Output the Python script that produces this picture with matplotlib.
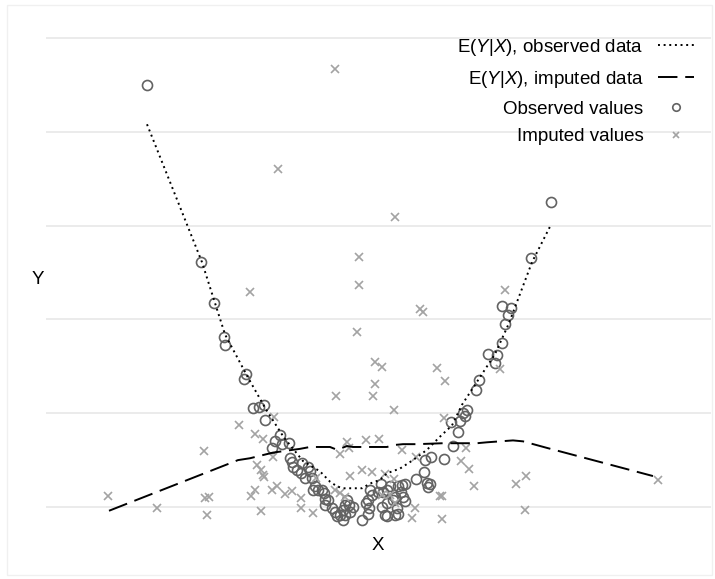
import numpy as np
import matplotlib
matplotlib.use("Agg")
import matplotlib.pyplot as plt
from matplotlib.patches import Rectangle

plt.rcParams['font.family'] = ['Liberation Sans', 'DejaVu Sans']
plt.rcParams['mathtext.fontset'] = 'custom'
plt.rcParams['mathtext.rm'] = 'Liberation Sans'
plt.rcParams['mathtext.it'] = 'Liberation Sans:italic'

# ── data ─────────────────────────────────────────────────
obs_x = [-1.98, -1.44, -1.31, -1.21, -1.20, -0.99, -1.01, -0.92, -0.86, -0.81,
         -0.80, -0.65, -0.70, -0.63, -0.56, -0.73, -0.55, -0.53, -0.52, -0.48,
         -0.43, -0.44, -0.37, -0.35, -0.40, -0.33, -0.30, -0.27, -0.32, -0.23,
         -0.21, -0.20, -0.17, -0.20, -0.13, -0.10, -0.08, -0.05, -0.02, 0.00,
         0.02, 0.04, 0.08, 0.05, 0.00, -0.02, 0.17, 0.21, 0.23, 0.24,
         0.25, 0.27, 0.23, 0.36, 0.33, 0.38, 0.40, 0.42, 0.37, 0.42,
         0.45, 0.48, 0.42, 0.50, 0.53, 0.57, 0.60, 0.56, 0.58, 0.60,
         0.52, 0.53, 0.50, 0.71, 0.79, 0.82, 0.83, 0.85, 0.80, 0.86,
         0.99, 1.08, 1.06, 1.13, 1.15, 1.18, 1.20, 1.22, 1.34, 1.31,
         1.43, 1.52, 1.50, 1.57, 1.60, 1.63, 1.57, 1.66, 1.86, 2.06]
obs_y = [4.50, 2.61, 2.17, 1.81, 1.73, 1.42, 1.36, 1.06, 1.07, 1.09,
         0.93, 0.77, 0.70, 0.67, 0.68, 0.63, 0.52, 0.48, 0.43, 0.39,
         0.47, 0.36, 0.43, 0.38, 0.31, 0.31, 0.22, 0.18, 0.18, 0.18,
         0.15, 0.09, 0.07, 0.02, -0.01, -0.05, -0.10, -0.08, -0.03, 0.02,
         0.07, 0.02, 0.00, -0.05, -0.09, -0.14, -0.14, 0.04, 0.08, -0.01,
         0.18, 0.13, -0.07, 0.25, 0.16, 0.16, -0.09, -0.10, 0.00, 0.18,
         0.22, 0.07, 0.04, 0.11, 0.22, 0.23, 0.25, 0.16, 0.11, 0.06,
         -0.01, -0.07, -0.09, 0.30, 0.37, 0.26, 0.21, 0.25, 0.50, 0.53,
         0.51, 0.65, 0.91, 0.80, 0.92, 1.00, 0.97, 1.03, 1.35, 1.25,
         1.63, 1.62, 1.53, 1.75, 1.95, 2.05, 2.14, 2.12, 2.65, 3.25]

imp_x = [-0.10, -0.67, 0.50, 0.14, 0.14, -0.95, 0.75, 0.78, 1.60, 0.12,
         0.30, 0.37, 0.92, 0.30, 1.00, -0.09, 0.28, 1.55, 0.49, 0.99,
         -1.06, -0.71, -1.41, -2.37, -1.88, -1.40, -1.36, -1.38, 3.13, 1.81,
         1.71, 1.80, 1.29, 1.24, 1.16, 1.21, 0.97, 0.95, 0.97, -0.90,
         -0.82, -0.72, -0.88, -0.84, -0.82, -0.81, -0.90, -0.94, -0.73, -0.68,
         -0.60, -0.53, -0.44, -0.44, -0.84, -0.32, -0.29, 0.02, -0.05, 0.04,
         0.21, 0.34, 0.57, 0.05, 0.17, 0.27, 0.40, 0.49, 0.71, 0.67,
         0.70, -0.05, 0.00, 0.45, 0.50, 0.37, -0.10]
imp_y = [4.67, 3.60, 3.09, 2.67, 2.37, 2.29, 2.11, 2.08, 2.31, 1.87,
         1.55, 1.49, 1.48, 1.31, 1.34, 1.18, 1.18, 1.47, 1.03, 0.95,
         0.87, 0.96, 0.60, 0.12, -0.01, 0.10, 0.11, -0.08, 0.29, 0.33,
         0.25, -0.03, 0.22, 0.41, 0.49, 0.63, -0.13, 0.12, 0.12, 0.78,
         0.73, 0.53, 0.45, 0.39, 0.34, 0.32, 0.18, 0.12, 0.18, 0.22,
         0.14, 0.17, 0.10, -0.01, -0.04, -0.06, 0.31, 0.69, 0.57, 0.63,
         0.71, 0.72, 0.61, 0.33, 0.39, 0.37, 0.35, 0.30, 0.53, -0.12,
         -0.01, 0.15, 0.11, 0.13, 0.04, 0.13, 0.18]

# smoothed E(Y|X), observed data
fit_obs_x = [-1.98, -1.43, -1.20, -0.97, -0.79, -0.61, -0.42, -0.25, -0.15, -0.08,
             -0.02, 0.08, 0.17, 0.25, 0.35, 0.42, 0.55, 0.68, 0.82, 0.95,
             1.07, 1.17, 1.28, 1.50, 1.64, 1.87, 2.06]
fit_obs_y = [4.08, 2.61, 1.84, 1.38, 1.04, 0.74, 0.49, 0.38, 0.27, 0.22,
             0.20, 0.20, 0.20, 0.25, 0.29, 0.36, 0.41, 0.50, 0.61, 0.75,
             0.87, 1.09, 1.27, 1.63, 1.96, 2.61, 3.01]

# smoothed E(Y|X), imputed data
fit_imp_x = [-2.36, -1.07, -0.95, -0.72, -0.52, -0.45, -0.35, -0.15, -0.08, -0.03,
             0.02, 0.08, 0.28, 0.42, 0.48, 0.58, 0.72, 0.98, 1.32, 1.42,
             1.68, 1.78, 2.02, 2.48, 3.08]
fit_imp_y = [-0.04, 0.50, 0.52, 0.58, 0.61, 0.62, 0.64, 0.64, 0.61, 0.63,
             0.65, 0.64, 0.64, 0.64, 0.66, 0.67, 0.67, 0.68, 0.68, 0.69,
             0.71, 0.70, 0.63, 0.50, 0.33]

# ── plot ─────────────────────────────────────────────────
W, H = 715, 579
fig = plt.figure(figsize=(W / 100, H / 100), dpi=100)
ax = fig.add_axes([46 / W, 1 - 530 / H, 665 / W, 500 / H])

ax.plot(obs_x, obs_y, linestyle='none', marker='o', markersize=7.2,
        markerfacecolor='none', markeredgecolor='#626262', markeredgewidth=1.2,
        label='Observed values', zorder=3)
ax.plot(imp_x, imp_y, linestyle='none', marker='x', markersize=6,
        color='#a3a3a3', markeredgewidth=1.2, label='Imputed values', zorder=3)
ax.plot(fit_obs_x, fit_obs_y, color='black', linewidth=1.4,
        linestyle=(0, (1, 1.9)), label=r'E($\mathit{Y}$|$\mathit{X}$), observed data', zorder=4)
ax.plot(fit_imp_x, fit_imp_y, color='black', linewidth=1.4,
        linestyle=(0, (10, 4)), label=r'E($\mathit{Y}$|$\mathit{X}$), imputed data', zorder=4)

ax.set_xlim(-2.99, 3.66)
ax.set_ylim(-0.245, 5.085)
ax.set_yticks(range(6))
ax.set_xticks([])
ax.yaxis.grid(True, color='#ebebeb', linewidth=1.4)
ax.set_axisbelow(True)
ax.tick_params(left=False, labelleft=False, bottom=False, labelbottom=False)
for s in ax.spines.values():
    s.set_visible(False)

fig.text(38 / W, 1 - 280 / H, 'Y', ha='center', va='center', fontsize=13.5)
fig.text(378 / W, 1 - 545 / H, 'X', ha='center', va='center', fontsize=13.5)

handles, labels = ax.get_legend_handles_labels()
order = [2, 3, 0, 1]
ax.legend([handles[i] for i in order], [labels[i] for i in order],
          loc='upper right', bbox_to_anchor=(694 / W, 1 - 37 / H),
          bbox_transform=fig.transFigure, frameon=False, markerfirst=False,
          fontsize=13.5, handlelength=1.9, handletextpad=0.8,
          labelspacing=0.57, borderpad=0, borderaxespad=0, markerscale=0.75)

fig.patches.append(Rectangle((7 / W, 4 / H), 705 / W, 570 / H, transform=fig.transFigure,
                             fill=False, edgecolor='#f0f0f0', linewidth=1))

fig.savefig('out.png', dpi=100)
